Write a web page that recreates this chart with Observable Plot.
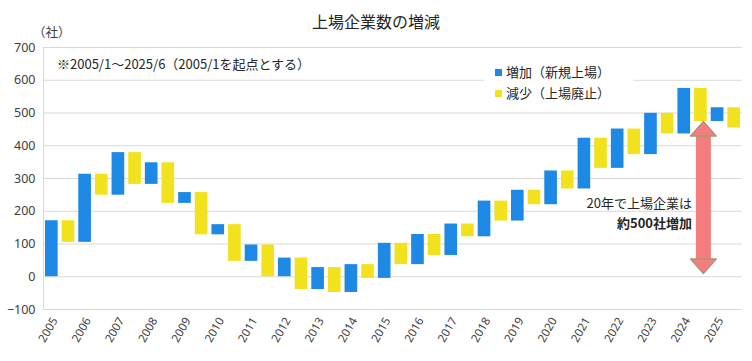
<!DOCTYPE html>
<html><head><meta charset="utf-8">
<script src="https://cdn.jsdelivr.net/npm/d3@7"></script>
<script src="https://cdn.jsdelivr.net/npm/@observablehq/plot@0.6"></script>
<style>
body{margin:0;background:#fff;}
#wrap{position:relative;width:752px;height:361px;font-family:"Noto Sans CJK JP","Noto Sans",sans-serif;color:#262626;}
.ov{position:absolute;white-space:nowrap;line-height:1;}
#legend{position:absolute;left:484px;top:58px;width:149px;height:46px;background:#fff;}
.sw{display:inline-block;width:7px;height:7px;margin-right:4px;vertical-align:1px;}
</style></head>
<body>
<div id="wrap">
<div id="chart"></div>
<div class="ov" style="left:0;width:752px;text-align:center;top:13px;font-size:16px;font-weight:400;">上場企業数の増減</div>
<div class="ov" style="left:33px;top:26px;font-size:12.5px;color:#404040;">（社）</div>
<div class="ov" style="left:57px;top:57px;font-size:13px;">※2005/1～2025/6（2005/1を起点とする）</div>
<div id="legend">
 <div class="ov" style="left:11px;top:7px;font-size:13px;"><span class="sw" style="background:#1E88E5"></span>増加（新規上場）</div>
 <div class="ov" style="left:11px;top:28px;font-size:13px;"><span class="sw" style="background:#F2E21E"></span>減少（上場廃止）</div>
</div>
<div class="ov" style="right:60px;top:196px;font-size:13px;">20年で上場企業は</div>
<div class="ov" style="right:60px;top:216px;font-size:13px;font-weight:bold;">約500社増加</div>
</div>
<script>
const years = ["2005","2006","2007","2008","2009","2010","2011","2012","2013","2014","2015","2016","2017","2018","2019","2020","2021","2022","2023","2024","2025"];
const increase = [171,208,130,66,33,31,50,57,67,85,107,92,96,109,94,103,155,120,126,139,42];
const decrease = [66,64,97,124,129,112,97,96,76,42,65,64,39,61,44,55,92,78,63,101,62];
const yTicks = [-100,0,100,200,300,400,500,600,700];

// waterfall steps computed from the data
const steps = [];
let cum = 0;
years.forEach((y, i) => {
  steps.push({i: 2*i, type: "inc", y1: cum, y2: cum + increase[i]});
  cum += increase[i];
  steps.push({i: 2*i + 1, type: "dec", y1: cum, y2: cum - decrease[i]});
  cum -= decrease[i];
});

// annotation arrow (data units)
const arrowX = 39.18, arrowTop = 473, arrowBottom = 8, headLen = 45, headHalf = 0.78, shaftHalf = 0.45;
const headTop = [{y: arrowTop, x1: arrowX, x2: arrowX}, {y: arrowTop - headLen, x1: arrowX - headHalf, x2: arrowX + headHalf}];
const headBottom = [{y: arrowBottom, x1: arrowX, x2: arrowX}, {y: arrowBottom + headLen, x1: arrowX - headHalf, x2: arrowX + headHalf}];

const hw = 0.38;
const chart = Plot.plot({
  width: 752, height: 361,
  marginTop: 47, marginLeft: 43, marginRight: 10, marginBottom: 52,
  style: {fontFamily: "'Noto Sans', sans-serif", fontSize: "12px", color: "#404040", background: "#fff"},
  x: {type: "linear", domain: [-0.5, 41.5], axis: null},
  y: {domain: [-100, 700], axis: null},
  marks: [
    Plot.ruleY(yTicks, {stroke: "#D9D9D9", strokeWidth: 1}),
    Plot.ruleX([-0.5], {stroke: "#D9D9D9"}),
    Plot.axisY({ticks: yTicks, tickSize: 0, tickPadding: 8, fontSize: 12.5, fill: "#404040"}),
    Plot.axisX({ticks: years.map((d, i) => 2*i), tickFormat: d => years[d/2], tickSize: 0, tickRotate: -60, tickPadding: 9, dx: 3, fontSize: 11.5, fill: "#404040", textAnchor: "end"}),
    Plot.rect(steps, {x1: d => d.i - hw, x2: d => d.i + hw, y1: "y1", y2: "y2", fill: d => d.type === "inc" ? "#1E88E5" : "#F2E21E"}),
    Plot.rect([{}], {x1: arrowX - shaftHalf, x2: arrowX + shaftHalf, y1: arrowBottom + headLen, y2: arrowTop - headLen, fill: "#F47C7C"}),
    Plot.areaX(headTop, {y: "y", x1: "x1", x2: "x2", fill: "#F27F7C", stroke: "#A89078", strokeWidth: 1.2}),
    Plot.areaX(headBottom, {y: "y", x1: "x1", x2: "x2", fill: "#F27F7C", stroke: "#A89078", strokeWidth: 1.2})
  ]
});
document.getElementById("chart").append(chart);
</script>
</body></html>
